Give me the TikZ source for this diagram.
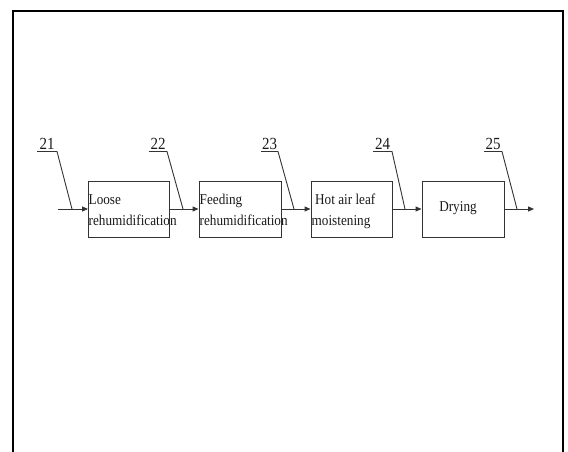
\documentclass[tikz,border=0pt]{standalone}
\usepackage{fontspec}
\setmainfont{Liberation Serif}[FakeStretch=0.88]
\usetikzlibrary{arrows.meta,calc}
\begin{document}
\begin{tikzpicture}[x=1pt,y=-1pt,
  ink/.style={draw=black!80, line width=0.9pt},
  stage/.style={ink, rectangle, minimum height=56pt, inner sep=0pt},
  flow/.style={ink, line width=1pt, -{Triangle[length=6pt,width=5pt]}},
  leader/.style={ink},
  boxtext/.style={inner sep=0pt, anchor=base west, text=black!90, font=\fontsize{15}{21}\selectfont},
  tagnum/.style={inner sep=0pt, anchor=base, text=black!90, font=\fontsize{17}{20}\selectfont}]
\useasboundingbox (0,0) rectangle (568,452);

% outer frame, open at the bottom
\draw[black, line width=2pt] (13,452) -- (13,11) -- (563,11) -- (563,452);

% process stages
\node[stage, minimum width=81pt] (b1) at (129,209) {};
\node[stage, minimum width=82pt] (b2) at (240,209) {};
\node[stage, minimum width=81pt] (b3) at (351.5,209) {};
\node[stage, minimum width=82pt] (b4) at (463,209) {};

% stage labels
\node[boxtext] (t1a) at (88.5,204.3) {Loose};
\node[boxtext] (t1b) at (88.5,225.3) {rehumidification};
\node[boxtext] (t2a) at (199.5,204.3) {Feeding};
\node[boxtext] (t2b) at (199.5,225.3) {rehumidification};
\node[boxtext] (t3a) at (315,204.3) {Hot air leaf};
\node[boxtext] (t3b) at (311.5,225.3) {moistening};
\node[inner sep=0pt, text=black!90, font=\fontsize{15}{21}\selectfont] (t4) at (458,208) {Drying};

% material flow
\coordinate (in) at (58,209);
\coordinate (out) at (534,209);
\draw[flow] (in) -- (b1.west);
\draw[flow] (b1.east) -- (b2.west);
\draw[flow] (b2.east) -- (b3.west);
\draw[flow] (b3.east) -- (b4.west);
\draw[flow] (b4.east) -- (out);

% reference numerals with leader lines
\foreach \n/\ul/\ur/\px in {21/37/57/72, 22/149/167/183, 23/261/278/294, 24/373/392/405, 25/484/502/517}{
  \coordinate (u\n l) at (\ul,151.5);
  \coordinate (u\n r) at (\ur,151.5);
  \coordinate (p\n) at (\px,209);
  \draw[leader] (u\n l) -- (u\n r) -- (p\n);
  \node[tagnum] (n\n) at ($ (u\n l)!0.5!(u\n r) + (0,-2.5) $) {\n};
}
\end{tikzpicture}
\end{document}
